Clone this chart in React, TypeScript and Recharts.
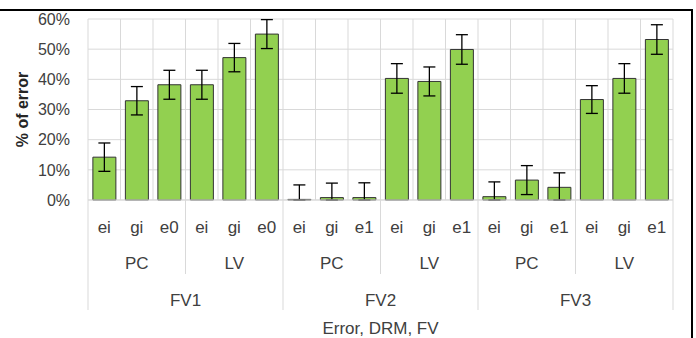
import React from 'react';
import {
  BarChart, Bar, XAxis, YAxis, CartesianGrid, ErrorBar, Label,
} from 'recharts';

const errorTypes = ['ei', 'gi', 'e0', 'ei', 'gi', 'e0', 'ei', 'gi', 'e1', 'ei', 'gi', 'e1', 'ei', 'gi', 'e1', 'ei', 'gi', 'e1'];
const drmGroups = ['PC', 'LV', 'PC', 'LV', 'PC', 'LV'];
const fvGroups = ['FV1', 'FV2', 'FV3'];
const errorPct = [14.2, 32.9, 38.2, 38.2, 47.2, 55.0, 0.2, 0.8, 0.8, 40.3, 39.3, 49.9, 1.1, 6.6, 4.2, 33.3, 40.3, 53.2];
const errorBars = [4.7, 4.7, 4.8, 4.8, 4.7, 4.8, 4.8, 4.8, 4.9, 4.9, 4.8, 4.9, 4.9, 4.8, 4.8, 4.6, 4.9, 4.9];
const yTicks = [0, 10, 20, 30, 40, 50, 60];

const FONT = '"Liberation Sans", Arial, sans-serif';
const TEXT = '#404040';
const GRID = '#d9d9d9';

// lower whisker stops at the 0% baseline like the original
const data = errorTypes.map((e, i) => ({
  id: i,
  err: e,
  value: errorPct[i],
  range: [Math.min(errorBars[i], errorPct[i]), errorBars[i]],
}));

function CategoryTick(props: any) {
  const { x, y, payload } = props;
  const i = payload.index;
  const half = payload.offset || 585 / 36;
  const left = x - half;
  const right = x + half;
  const txt = { fill: TEXT, fontSize: 17, fontFamily: FONT, textAnchor: 'middle' as const, dominantBaseline: 'central' as const };
  return (
    <g>
      <text x={x} y={y + 27} {...txt}>{errorTypes[i]}</text>
      {i % 3 === 1 && <text x={x} y={y + 63} {...txt}>{drmGroups[Math.floor(i / 3)]}</text>}
      {i % 6 === 2 && <text x={right} y={y + 100} {...txt}>{fvGroups[Math.floor(i / 6)]}</text>}
      {i % 3 === 0 && <line x1={left} x2={left} y1={y} y2={y + (i % 6 === 0 ? 110 : 74)} stroke={GRID} />}
      {i === errorTypes.length - 1 && <line x1={right} x2={right} y1={y} y2={y + 110} stroke={GRID} />}
    </g>
  );
}

export default function App() {
  return (
    <div style={{ position: 'absolute', left: 0, top: 0, width: 696, height: 338, overflow: 'hidden', background: '#fff' }}>
      <div style={{ position: 'absolute', left: -4, top: 9, width: 697, height: 400, boxSizing: 'border-box', borderTop: '2px solid #000', borderRight: '2px solid #000' }} />
      <BarChart
        width={696}
        height={338}
        data={data}
        margin={{ top: 19, right: 23, bottom: 0, left: 10 }}
        barCategoryGap="15%"
        style={{ position: 'absolute', left: 0, top: 0 }}
      >
        <CartesianGrid
          stroke={GRID}
          verticalCoordinatesGenerator={({ offset }: any) =>
            errorTypes.map((_, i) => offset.left + (i * offset.width) / errorTypes.length).concat(offset.left + offset.width)}
        />
        <XAxis
          dataKey="id"
          type="category"
          interval={0}
          tickSize={0}
          tickMargin={0}
          tickLine={false}
          axisLine={{ stroke: GRID }}
          height={138}
          tick={<CategoryTick />}
        >
          <Label value="Error, DRM, FV" position="insideBottom" offset={4} style={{ fill: TEXT, fontSize: 17, fontFamily: FONT }} />
        </XAxis>
        <YAxis
          width={78}
          domain={[0, 60]}
          ticks={yTicks}
          tickFormatter={(v: number) => `${v}%`}
          tickSize={0}
          tickMargin={18}
          tickLine={false}
          axisLine={false}
          tick={{ fill: TEXT, fontSize: 16, fontFamily: FONT }}
        >
          <Label
            content={({ viewBox }: any) => {
              const cx = viewBox.x + 12;
              const cy = viewBox.y + viewBox.height / 2;
              return (
                <text x={cx} y={cy} transform={`rotate(-90 ${cx} ${cy})`} textAnchor="middle" dominantBaseline="central"
                  fill="#262626" fontSize={16} fontWeight="bold" fontFamily={FONT}>
                  % of error
                </text>
              );
            }}
          />
        </YAxis>
        <Bar dataKey="value" fill="#92D050" stroke="#333" strokeWidth={1} isAnimationActive={false}>
          <ErrorBar dataKey="range" width={6} stroke="#000" strokeWidth={1.3} isAnimationActive={false} />
        </Bar>
      </BarChart>
    </div>
  );
}
